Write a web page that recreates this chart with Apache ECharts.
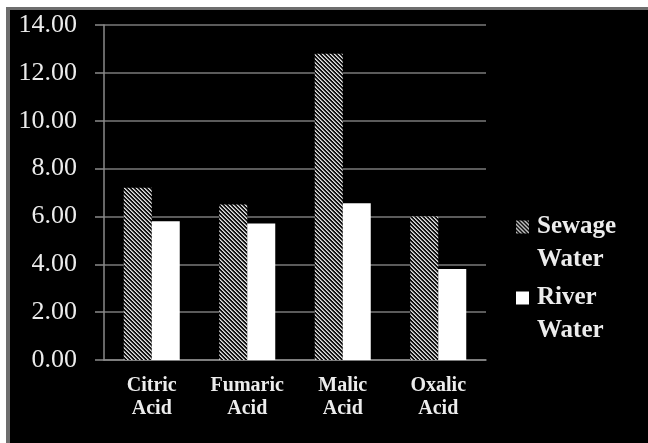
<!DOCTYPE html>
<html>
<head>
<meta charset="utf-8">
<script src="https://cdn.jsdelivr.net/npm/echarts@6/dist/echarts.min.js"></script>
<style>
html,body{margin:0;padding:0;background:#fff;}
#chart{width:648px;height:443px;}
</style>
</head>
<body>
<div id="chart"></div>
<script>
var categories = ['Citric\nAcid', 'Fumaric\nAcid', 'Malic\nAcid', 'Oxalic\nAcid'];
var sewageWater = [7.2, 6.5, 12.8, 6.0];
var riverWater = [5.8, 5.7, 6.55, 3.8];
var seriesNames = ['Sewage Water', 'River Water'];
var yTicks = { min: 0, max: 14, interval: 2 };

function makeHatch() {
  var c = document.createElement('canvas');
  c.width = 4; c.height = 4;
  var ctx = c.getContext('2d');
  ctx.fillStyle = '#111';
  ctx.fillRect(0, 0, 4, 4);
  for (var y = 0; y < 4; y++) {
    for (var x = 0; x < 4; x++) {
      var d = ((x - y) % 4 + 4) % 4;
      if (d === 0) { ctx.fillStyle = '#e0e0e0'; ctx.fillRect(x, y, 1, 1); }
      else if (d === 1) { ctx.fillStyle = '#9a9a9a'; ctx.fillRect(x, y, 1, 1); }
    }
  }
  return c;
}
var hatch = { image: makeHatch(), repeat: 'repeat' };

var chart = echarts.init(document.getElementById('chart'), null, { renderer: 'canvas' });
var serif = '"Liberation Serif", "DejaVu Serif", serif';
var legendText = { color: '#ececec', fontFamily: serif, fontWeight: 'bold', fontSize: 25, lineHeight: 33, padding: [0, 0, 0, 3] };
chart.setOption({
  backgroundColor: '#000',
  animation: false,
  graphic: [
    { type: 'rect', shape: { x: 0, y: 0, width: 648, height: 7 }, style: { fill: '#fff' }, silent: true },
    { type: 'rect', shape: { x: 0, y: 0, width: 6, height: 443 }, style: { fill: '#fff' }, silent: true },
    { type: 'rect', shape: { x: 6, y: 7, width: 642, height: 3 }, style: { fill: '#6e6e6e' }, silent: true },
    { type: 'rect', shape: { x: 6, y: 7, width: 4, height: 436 }, style: { fill: '#6e6e6e' }, silent: true }
  ],
  grid: { left: 104, right: 162, top: 25, bottom: 83, containLabel: false },
  legend: {
    orient: 'vertical',
    left: 516,
    top: 189,
    padding: 0,
    itemWidth: 13,
    itemHeight: 13,
    itemGap: -12.5,
    icon: 'rect',
    data: seriesNames,
    formatter: function (name) {
      var parts = name.split(' ');
      return '{s| }\n{a|' + parts[0] + '}\n{a|' + parts[1] + '}';
    },
    textStyle: {
      color: '#ececec',
      fontFamily: serif,
      fontWeight: 'bold',
      fontSize: 25,
      rich: {
        s: { fontSize: 10, lineHeight: 33 },
        a: legendText
      }
    }
  },
  xAxis: {
    type: 'category',
    data: categories,
    axisLine: { lineStyle: { color: '#8a8a8a', width: 1.5 } },
    axisTick: { length: 6, lineStyle: { color: '#8a8a8a', width: 1.5 } },
    axisLabel: {
      color: '#ececec',
      fontFamily: serif,
      fontWeight: 'bold',
      fontSize: 20,
      lineHeight: 23,
      margin: 14
    }
  },
  yAxis: {
    type: 'value',
    min: yTicks.min,
    max: yTicks.max,
    interval: yTicks.interval,
    axisLine: { show: true, lineStyle: { color: '#8a8a8a', width: 1.5 } },
    axisTick: { show: true, length: 9, lineStyle: { color: '#8a8a8a', width: 1.5 } },
    splitLine: { lineStyle: { color: '#7a7a7a', width: 1.5 } },
    axisLabel: {
      color: '#ececec',
      fontFamily: serif,
      fontSize: 26,
      margin: 27,
      formatter: function (v) { return v.toFixed(2); }
    }
  },
  series: [
    {
      name: seriesNames[0],
      type: 'bar',
      data: sewageWater,
      barWidth: 28,
      barGap: '0%',
      itemStyle: { color: hatch }
    },
    {
      name: seriesNames[1],
      type: 'bar',
      data: riverWater,
      barWidth: 28,
      barGap: '0%',
      itemStyle: { color: '#ffffff' }
    }
  ]
});
</script>
</body>
</html>
